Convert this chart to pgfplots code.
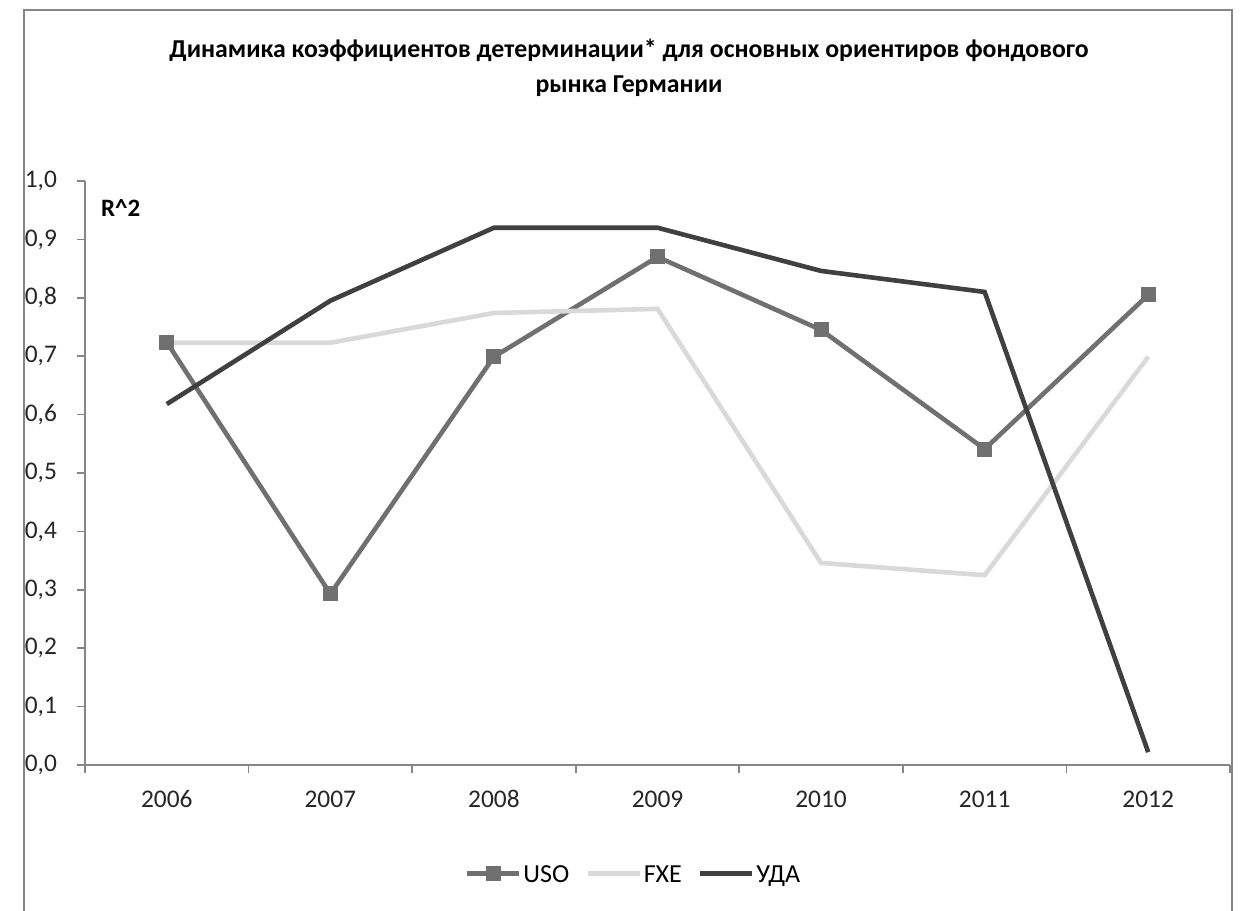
\documentclass[border=0pt]{standalone}
\usepackage{fontspec}
\setmainfont{Carlito}
\usepackage{pgfplots}
\pgfplotsset{compat=1.18}
\definecolor{uso}{HTML}{707070}
\definecolor{fxe}{HTML}{D9D9D9}
\definecolor{uda}{HTML}{404040}
\definecolor{axisgray}{HTML}{868686}
\begin{document}
\begin{tikzpicture}
\path[use as bounding box] (-42.5pt,-72.5pt) rectangle (577.5pt,382.5pt);
\fill[white] (-42.5pt,-72.5pt) rectangle (577.5pt,382.5pt);
\draw[axisgray, line width=1pt] (-30.5pt,-80pt) -- (-30.5pt,377.5pt) -- (573.5pt,377.5pt) -- (573.5pt,-80pt);
\begin{axis}[
  at={(0pt,0pt)}, anchor=south west,
  scale only axis, width=572.5pt, height=292pt,
  xmin=-0.5, xmax=6.5, ymin=0, ymax=1,
  axis x line*=bottom, axis y line*=left,
  axis line style={axisgray, line width=0.8pt},
  xtick={-0.5,0.5,1.5,2.5,3.5,4.5,5.5,6.5},
  x tick label as interval,
  xticklabels={2006,2007,2008,2009,2010,2011,2012},
  ytick={0,0.1,0.2,0.3,0.4,0.5,0.6,0.7,0.8,0.9,1.0},
  tick align=outside, major tick length=4pt,
  tick style={axisgray, line width=0.8pt},
  /pgf/number format/use comma,
  /pgf/number format/fixed,
  /pgf/number format/fixed zerofill,
  /pgf/number format/precision=1,
  /pgf/number format/assume math mode=true,
  yticklabel style={xshift=-6.5pt},
  xticklabel style={anchor=base, yshift=-17pt},
  ticklabel style={font=\fontsize{12.7}{15}\selectfont, text=black!85},
  legend style={at={(0.479,-0.186)}, anchor=center, draw=none, fill=none,
    legend columns=3, font=\fontsize{13}{15}\selectfont,
    /tikz/every even column/.append style={column sep=7pt},
    inner sep=0pt, nodes={inner sep=1pt, text height=9pt, text depth=0pt}},
  legend cell align=left,
  legend image code/.code={\draw[mark repeat=2,mark phase=2] plot coordinates {(0pt,0pt)(13pt,0pt)(26pt,0pt)};},
  clip=false,
]
\addplot[uso, line width=2.3pt, mark=square*, mark size=3.5pt, mark options={solid, fill=uso, draw=uso, line width=0pt}] coordinates {
(0,0.724) (1,0.293) (2,0.699) (3,0.870) (4,0.745) (5,0.541) (6,0.805)};
\addlegendentry{USO}
\addplot[fxe, line width=2.3pt, no marks] coordinates {
(0,0.723) (1,0.723) (2,0.774) (3,0.781) (4,0.346) (5,0.325) (6,0.699)};
\addlegendentry{FXE}
\addplot[uda, line width=2.3pt, no marks] coordinates {
(0,0.618) (1,0.795) (2,0.920) (3,0.920) (4,0.846) (5,0.810) (6,0.022)};
\addlegendentry{УДА}
\end{axis}
\node[anchor=west, font=\bfseries\fontsize{12.5}{15}\selectfont] at (4.5pt,278.5pt) {R\textasciicircum{}2};
\node[align=center, font=\bfseries\fontsize{12.9}{17.5}\selectfont] at (272pt,348.75pt)
  {Динамика коэффициентов детерминации* для основных ориентиров фондового\\рынка Германии};
\end{tikzpicture}
\end{document}
